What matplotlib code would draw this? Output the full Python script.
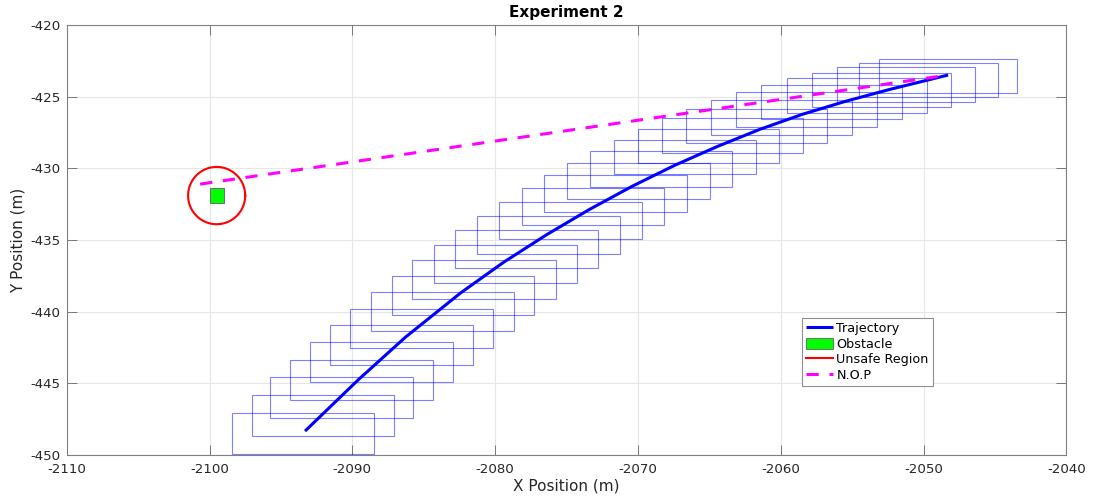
import numpy as np
import matplotlib
matplotlib.use('Agg')
import matplotlib.pyplot as plt
from matplotlib.patches import Rectangle, Patch

# vehicle footprint boxes along the path (bounds in metres)
box_xmin = [-2098.40, -2097.04, -2095.74, -2094.34, -2092.96, -2091.54, -2090.14, -2088.71,
            -2087.24, -2085.80, -2084.30, -2082.79, -2081.27, -2079.73, -2078.14, -2076.55,
            -2074.94, -2073.33, -2071.70, -2070.02, -2068.33, -2066.61, -2064.90, -2063.13,
            -2061.36, -2059.58, -2057.81, -2056.08, -2054.50, -2053.10]
box_xmax = [-2088.46, -2087.10, -2085.73, -2084.37, -2082.97, -2081.53, -2080.13, -2078.68,
            -2077.25, -2075.76, -2074.24, -2072.77, -2071.23, -2069.69, -2068.15, -2066.58,
            -2064.97, -2063.39, -2061.73, -2060.12, -2058.42, -2056.74, -2055.01, -2053.27,
            -2051.53, -2049.78, -2048.07, -2046.39, -2044.76, -2043.43]
box_ymin = [-449.96, -448.68, -447.40, -446.17, -444.93, -443.75, -442.56, -441.37,
            -440.26, -439.12, -438.03, -436.98, -435.98, -434.96, -433.98, -433.07,
            -432.14, -431.29, -430.42, -429.65, -428.91, -428.26, -427.65, -427.10,
            -426.56, -426.12, -425.74, -425.35, -425.05, -424.72]
box_ymax = [-447.10, -445.84, -444.58, -443.36, -442.12, -440.96, -439.80, -438.65,
            -437.54, -436.40, -435.35, -434.33, -433.33, -432.33, -431.40, -430.47,
            -429.63, -428.79, -428.03, -427.28, -426.51, -425.86, -425.26, -424.70,
            -424.19, -423.72, -423.35, -422.95, -422.67, -422.37]

# trajectory
traj_x = [-2093.31, -2089.57, -2086.28, -2082.40, -2079.40, -2076.41, -2073.42, -2070.42,
          -2067.43, -2064.43, -2061.44, -2058.45, -2055.45, -2052.47, -2048.28]
traj_y = [-448.33, -444.74, -441.78, -438.68, -436.55, -434.64, -432.88, -431.26,
          -429.79, -428.47, -427.27, -426.22, -425.32, -424.52, -423.49]

# N.O.P line
nop_x = [-2100.66, -2048.28]
nop_y = [-431.10, -423.49]

# obstacle and unsafe region
obs_x, obs_y, obs_size = -2099.5, -431.9, 1.0
unsafe_r = 2.0

plt.rcParams['font.family'] = 'DejaVu Sans'
plt.rcParams['axes.unicode_minus'] = False
fig = plt.figure(figsize=(10.99, 5.0), dpi=100)
ax = fig.add_axes([0.0607, 0.09, 0.9096, 0.86])

for x0, x1, y0, y1 in zip(box_xmin, box_xmax, box_ymin, box_ymax):
    ax.add_patch(Rectangle((x0, y0), x1 - x0, y1 - y0, fill=False,
                           edgecolor='blue', alpha=0.5, lw=0.8, zorder=2))

traj, = ax.plot(traj_x, traj_y, color='blue', lw=2.2, zorder=4, solid_capstyle='butt',
                solid_joinstyle='round')
nop, = ax.plot(nop_x, nop_y, color='magenta', lw=2.2, linestyle=(0, (4, 3.5)), zorder=4)

ax.add_patch(Rectangle((obs_x - obs_size / 2, obs_y - obs_size / 2), obs_size, obs_size,
                       facecolor='#00ff00', edgecolor='#606060', lw=0.6, zorder=3))
t = np.linspace(0, 2 * np.pi, 200)
unsafe, = ax.plot(obs_x + unsafe_r * np.cos(t), obs_y + unsafe_r * np.sin(t),
                  color='red', lw=1.5, zorder=3)

ax.set_xlim(-2110, -2040)
ax.set_ylim(-450, -420)
ax.set_xticks(np.arange(-2110, -2039, 10))
ax.set_yticks(np.arange(-450, -419, 5))
ax.grid(True, color='#e6e6e6', lw=0.8)
ax.set_axisbelow(True)
ax.tick_params(direction='in', length=7, width=0.6, top=True, right=True,
               labelsize=9.6, colors='#666666', labelcolor='#262626')
ax.tick_params(axis='x', pad=5.5)
ax.tick_params(axis='y', pad=4.5)
for s in ax.spines.values():
    s.set_color('#808080')
    s.set_linewidth(0.8)

ax.set_title('Experiment 2', fontsize=11, fontweight='bold', pad=6)
ax.set_xlabel('X Position (m)', fontsize=11, color='#262626', labelpad=2)
ax.set_ylabel('Y Position (m)', fontsize=11, color='#262626', labelpad=3)

obstacle = Patch(facecolor='#00ff00', edgecolor='#606060', lw=0.6)
leg = ax.legend([traj, obstacle, unsafe, nop],
                ['Trajectory', 'Obstacle', 'Unsafe Region', 'N.O.P'],
                loc='upper left', bbox_to_anchor=(0.736, 0.318),
                fontsize=9.2, frameon=True, fancybox=False, framealpha=1,
                borderpad=0.3, labelspacing=0.2, handlelength=2.1, handleheight=0.9,
                handletextpad=0.25, borderaxespad=0)
leg.get_frame().set_edgecolor('#909090')
leg.get_frame().set_linewidth(0.8)

fig.savefig('out.png', dpi=100)
